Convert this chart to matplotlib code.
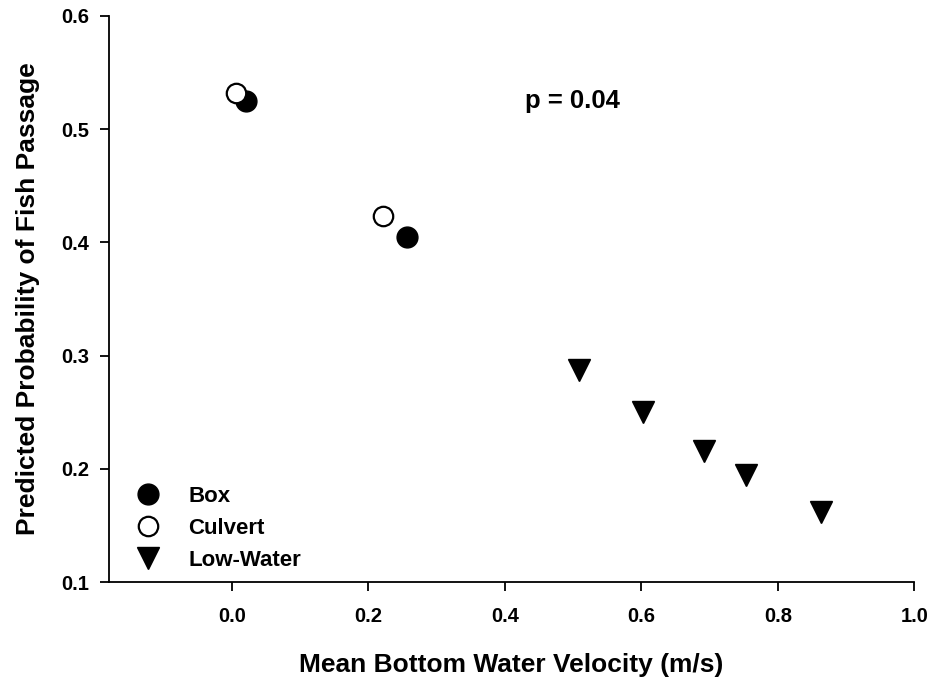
import matplotlib
matplotlib.use("Agg")
import matplotlib.pyplot as plt

plt.rcParams['font.family'] = ['Liberation Sans', 'DejaVu Sans']
plt.rcParams['font.weight'] = 'bold'

# data
box_x = [0.020, 0.256]
box_y = [0.525, 0.405]
culvert_x = [0.006, 0.221]
culvert_y = [0.532, 0.423]
low_x = [0.508, 0.602, 0.692, 0.754, 0.864]
low_y = [0.287, 0.250, 0.216, 0.195, 0.162]

xticks = [0.0, 0.2, 0.4, 0.6, 0.8, 1.0]
yticks = [0.1, 0.2, 0.3, 0.4, 0.5, 0.6]

fig = plt.figure(figsize=(9.32, 6.85), dpi=100)
ax = fig.add_axes([0.117, 0.150, 0.864, 0.827])

ax.plot(box_x, box_y, 'o', color='black', markersize=15, label='Box', zorder=3)
ax.plot(culvert_x, culvert_y, 'o', markerfacecolor='white', markeredgecolor='black',
        markeredgewidth=1.6, markersize=14, label='Culvert', zorder=4)
ax.plot(low_x, low_y, 'v', color='black', markersize=16, label='Low-Water', zorder=3)

ax.set_xlim(-0.18, 1.0)
ax.set_ylim(0.1, 0.6)
ax.set_xticks(xticks)
ax.set_yticks(yticks)
ax.set_xticklabels(['%.1f' % v for v in xticks])
ax.set_yticklabels(['%.1f' % v for v in yticks])

for s in ['top', 'right']:
    ax.spines[s].set_visible(False)
for s in ['left', 'bottom']:
    ax.spines[s].set_linewidth(1.3)
ax.tick_params(direction='out', length=6.5, width=1.3, labelsize=14.5)
ax.tick_params(axis='x', pad=11)
ax.tick_params(axis='y', pad=8)

ax.set_xlabel('Mean Bottom Water Velocity (m/s)', fontsize=19, fontweight='bold', labelpad=20)
ax.set_ylabel('Predicted Probability of Fish Passage', fontsize=19, fontweight='bold', labelpad=15)

ax.text(0.430, 0.519, 'p = 0.04', fontsize=18.5, fontweight='bold', va='baseline')

ax.legend(loc='upper left', bbox_to_anchor=(0.021, 0.170), frameon=False, fontsize=16,
          handletextpad=0.8, labelspacing=0.5, borderpad=0, borderaxespad=0)

fig.savefig('out.png', dpi=100)
